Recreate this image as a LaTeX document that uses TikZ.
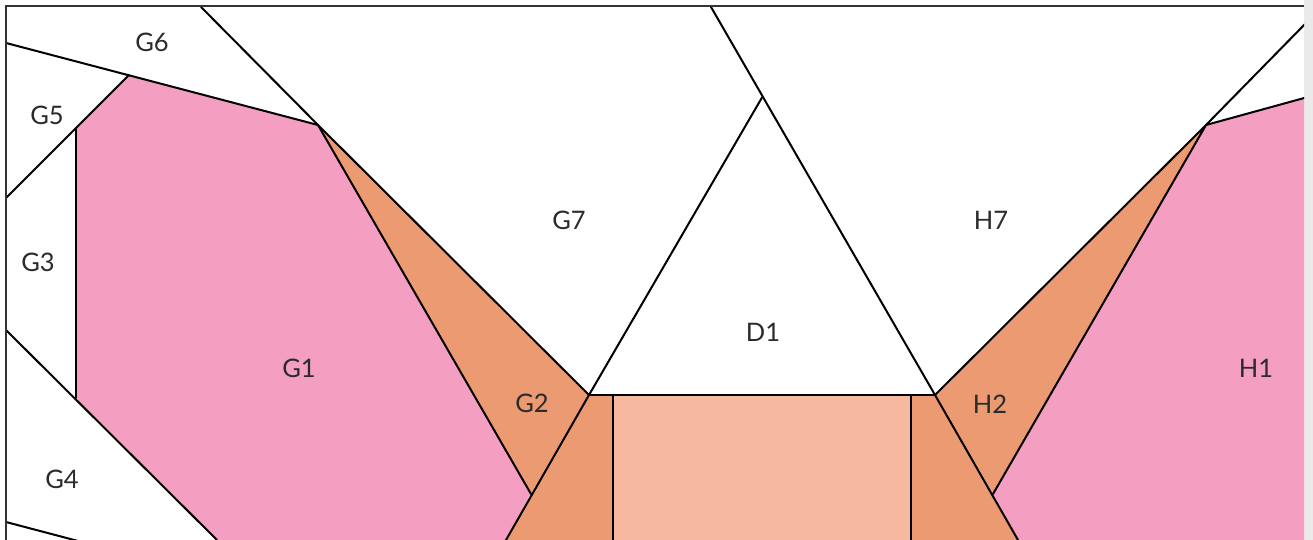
\documentclass[tikz,border=0pt]{standalone}
\usepackage{fontspec}
\setmainfont{Lato}
\definecolor{pinkfill}{HTML}{F49FC1}
\definecolor{orangefill}{HTML}{EC9A72}
\definecolor{peachfill}{HTML}{F6B9A0}
\definecolor{sidegray}{HTML}{ECE9EA}
\definecolor{labelgray}{HTML}{2B2B2B}
\tikzset{
  seam/.style={draw=black,line width=2pt,line cap=round,line join=round},
  patchlabel/.style={text=labelgray,font=\fontsize{25.5}{25.5}\selectfont,inner sep=0pt,anchor=center}
}
\begin{document}
\begin{tikzpicture}[x=1pt,y=-1pt]
\useasboundingbox (0,0) rectangle (1313,540);
\fill[white] (0,0) rectangle (1313,540);
\fill[sidegray] (1304,0) rectangle (1313,540);
\begin{scope}
\clip (0,0) rectangle (1304,540);
\fill[pinkfill] (129,75) -- (318,125) -- (531,494) -- (506,540) -- (217,540) -- (76,398) -- (76,129) -- cycle;
\fill[pinkfill] (1206,125) -- (1304,98) -- (1304,540) -- (1018,540) -- (993,494) -- cycle;
\fill[orangefill] (318,125) -- (589,395) -- (531,494) -- cycle;
\fill[orangefill] (935,395) -- (1206,125) -- (993,494) -- cycle;
\fill[orangefill] (589,395) -- (613,395) -- (613,540) -- (506,540) -- cycle;
\fill[orangefill] (911,395) -- (935,395) -- (1018,540) -- (911,540) -- cycle;
\fill[peachfill] (613,395) rectangle (911,540);
\end{scope}
\begin{scope}
\clip (0,0) rectangle (1304,540);
\draw[seam] (6,43) -- (318,125);
\draw[seam] (201,7) -- (318,125) -- (531,494);
\draw[seam] (318,125) -- (589,395);
\draw[seam] (6,198) -- (129,75);
\draw[seam] (76,129) -- (76,398);
\draw[seam] (6,330) -- (217,540);
\draw[seam] (6,522) -- (78,541);
\draw[seam] (506,540) -- (589,395) -- (762,97.5);
\draw[seam] (711,7) -- (935,395) -- (1018,540);
\draw[seam] (589,395) -- (935,395);
\draw[seam] (613,395) -- (613,540);
\draw[seam] (911,395) -- (911,540);
\draw[seam] (935,395) -- (1206,125) -- (993,494);
\draw[seam] (1206,125) -- (1306,23);
\draw[seam] (1206,125) -- (1306,97.5);
\end{scope}
\draw[draw=black!80,line width=2pt] (5.5,540) -- (5.5,6.5) -- (1304,6.5);
\node[patchlabel] (g6) at (152,42) {G6};
\node[patchlabel] (g5) at (47,115) {G5};
\node[patchlabel] (g3) at (38,262) {G3};
\node[patchlabel] (g4) at (62,479) {G4};
\node[patchlabel] (g1) at (299,368) {G1};
\node[patchlabel] (g2) at (532,403) {G2};
\node[patchlabel] (g7) at (569,220) {G7};
\node[patchlabel] (d1) at (763,332) {D1};
\node[patchlabel] (h7) at (991,220) {H7};
\node[patchlabel] (h2) at (990,404) {H2};
\node[patchlabel] (h1) at (1256,368) {H1};
\end{tikzpicture}
\end{document}
